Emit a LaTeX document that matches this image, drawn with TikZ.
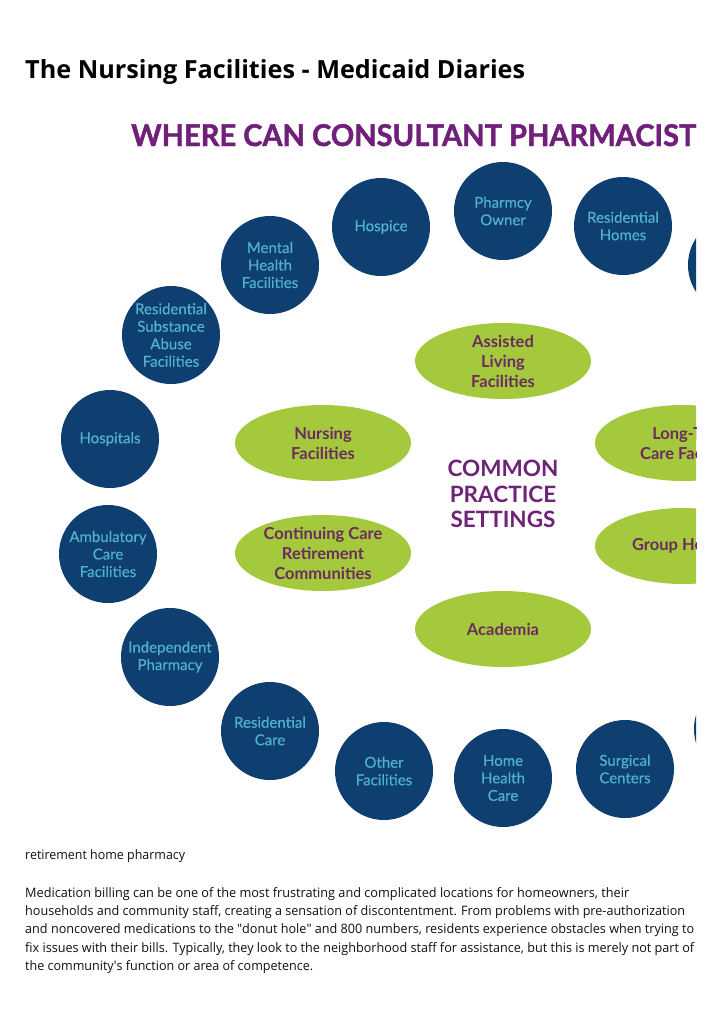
\documentclass[tikz,border=0pt]{standalone}
\usepackage{fontspec}
\setmainfont{Open Sans}
\newfontfamily\lato{Lato}
\newfontfamily\latomed{Lato}[FakeBold=0.35]
\newfontfamily\latoheavy{Lato}[BoldFeatures={FakeBold=1.5}]
\usepackage{graphicx}
\usetikzlibrary{shapes.geometric}
\definecolor{navy}{HTML}{0F3E70}
\definecolor{tealtxt}{HTML}{4FB4CB}
\definecolor{limegr}{HTML}{A5C93C}
\definecolor{plumtxt}{HTML}{6B2B5F}
\definecolor{hdrpurple}{HTML}{701F7A}
\definecolor{cpspurple}{HTML}{6E2378}
\definecolor{bodytxt}{HTML}{111111}
\newlength\natw
\newcommand\fitw[2]{\settowidth\natw{#2}\pgfmathsetmacro\fitsc{#1/\natw}\scalebox{\fitsc}[1]{#2}}
\newcommand\sdq{\XeTeXglyph\XeTeXcharglyph"22\relax}
\newcommand\sap{\XeTeXglyph\XeTeXcharglyph"27\relax}
\tikzset{
  circ/.style={circle, fill=navy, minimum size=98pt, inner sep=0pt, text=tealtxt, align=center, font=\latomed\fontsize{15}{17.5}\selectfont},
  ell/.style={ellipse, fill=limegr, minimum width=176pt, minimum height=76pt, inner sep=0pt, text=plumtxt, align=center, font=\lato\bfseries\fontsize{16.5}{20}\selectfont},
  bodyline/.style={anchor=base west, inner sep=0pt, text=bodytxt, font=\fontsize{13}{18}\selectfont}
}
\begin{document}
\begin{tikzpicture}[x=1pt,y=-1pt]
\fill[white] (0,0) rectangle (720,1018);
\useasboundingbox (0,0) rectangle (720,1018);

\node[anchor=base west, inner sep=0pt, text=black, font=\bfseries\fontsize{25}{30}\selectfont] (title) at (25,78) {\fitw{500}{The Nursing Facilities - Medicaid Diaries}};

\begin{scope}
\clip (0,100) rectangle (696,850);
\node[anchor=base west, inner sep=0pt, text=hdrpurple, font=\latoheavy\bfseries\fontsize{30}{30}\selectfont] (hdr) at (131,146) {\fitw{565}{WHERE CAN CONSULTANT PHARMACIST}};

\node[circ] (hospice) at (381,227) {Hospice};
\node[circ] (owner) at (503,211) {Pharmcy\\Owner};
\node[circ] (reshomes) at (623,226) {Residential\\Homes};
\node[circ] (pr1) at (737,265) {};
\node[circ] (mental) at (270,265) {Mental\\Health\\Facilities};
\node[circ] (subst) at (171,335) {Residential\\Substance\\Abuse\\Facilities};
\node[circ] (hosp) at (110,439) {Hospitals};
\node[circ] (ambul) at (108,554) {Ambulatory\\Care\\Facilities};
\node[circ] (indep) at (170,657) {Independent\\Pharmacy};
\node[circ] (rescare) at (270,731) {Residential\\Care};
\node[circ] (other) at (384,771) {Other\\Facilities};
\node[circ] (homehealth) at (503,778) {Home\\Health\\Care};
\node[circ] (surg) at (625,769) {Surgical\\Centers};
\node[circ] (pr2) at (743,729) {};

\node[ell] (assisted) at (503,361) {Assisted\\Living\\Facilities};
\node[ell] (nursing) at (323,443) {Nursing\\Facilities};
\node[ell] (longterm) at (683,443) {};
\node[text=plumtxt, align=center, font=\lato\bfseries\fontsize{16.5}{20}\selectfont] (longtermtxt) at (691,444) {Long-Term\\Care Facilities};
\node[ell] (ccrc) at (323,553) {Continuing Care\\Retirement\\Communities};
\node[ell] (group) at (683,546) {Group Homes};
\node[ell] (academia) at (503,629) {Academia};

\node[align=center, text=cpspurple, font=\lato\bfseries\fontsize{22.5}{25.5}\selectfont] (cps) at (503,494) {COMMON\\PRACTICE\\SETTINGS};
\end{scope}

\node[bodyline] (caption) at (25,859) {\fitw{160}{retirement home pharmacy}};
\node[bodyline] (p1) at (25,897) {\fitw{604}{Medication billing can be one of the most frustrating and complicated locations for homeowners, their}};
\node[bodyline] (p2) at (25,915) {\fitw{660}{households and community staff, creating a sensation of discontentment. From problems with pre-authorization}};
\node[bodyline] (p3) at (25,933) {\fitw{669}{and noncovered medications to the \sdq donut hole\sdq{} and 800 numbers, residents experience obstacles when trying to}};
\node[bodyline] (p4) at (25,952) {\fitw{669}{fix issues with their bills. Typically, they look to the neighborhood staff for assistance, but this is merely not part of}};
\node[bodyline] (p5) at (25,970) {\fitw{288}{the community\sap s function or area of competence.}};
\end{tikzpicture}
\end{document}
